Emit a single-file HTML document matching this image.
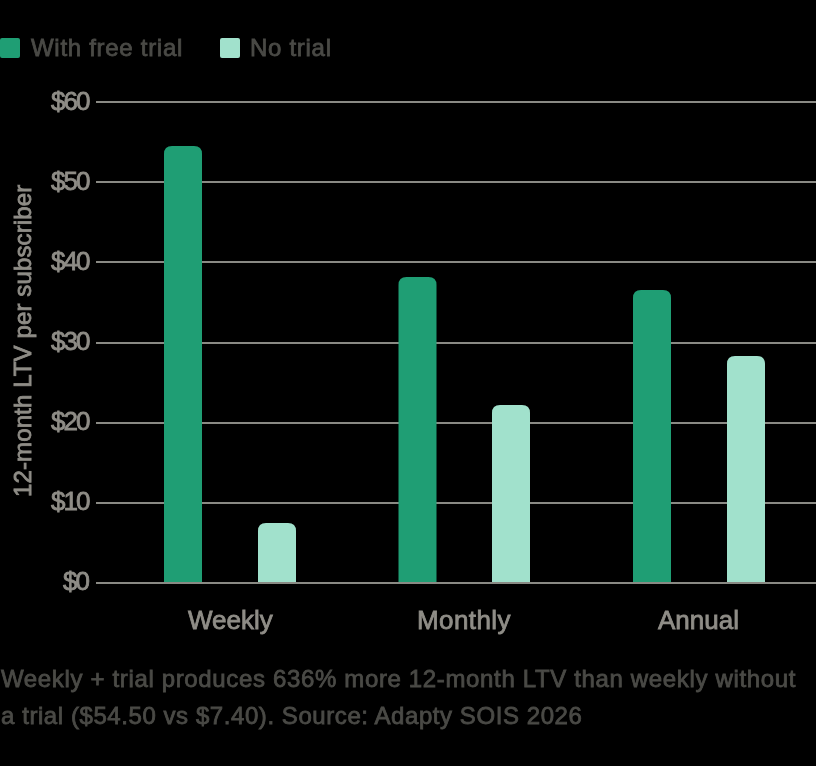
<!DOCTYPE html>
<html><head><meta charset="utf-8">
<style>
html,body{margin:0;padding:0;background:#000;width:816px;height:766px;overflow:hidden;}
body{position:relative;font-family:"Liberation Sans",sans-serif;}
.t{position:absolute;white-space:nowrap;line-height:1;will-change:transform;}
.leg{color:#4a4a46;font-size:24px;letter-spacing:0.71px;-webkit-text-stroke:0.8px #4a4a46;}
.ylab{color:#8f8d87;font-size:26px;letter-spacing:-2px;text-align:right;-webkit-text-stroke:0.8px #8f8d87;}
.xlab{color:#8f8d87;font-size:26px;-webkit-text-stroke:0.8px #8f8d87;}
.cap{color:#4a4a46;font-size:24px;letter-spacing:0.6px;-webkit-text-stroke:0.8px #4a4a46;}
.yt{color:#8f8d87;font-size:24px;letter-spacing:0.12px;-webkit-text-stroke:0.8px #8f8d87;}
svg{position:absolute;left:0;top:0;}
</style></head><body>
<svg width="816" height="766" viewBox="0 0 816 766">
  <rect x="0" y="38" width="20" height="20" rx="2" fill="#1f9e74"/>
  <rect x="220" y="38" width="20" height="20" rx="2" fill="#a1e1cc"/>
  <g fill="#8a8a84">
    <rect x="96" y="101" width="720" height="2"/>
    <rect x="96" y="181" width="720" height="2"/>
    <rect x="96" y="261" width="720" height="2"/>
    <rect x="96" y="342" width="720" height="2"/>
    <rect x="96" y="422" width="720" height="2"/>
    <rect x="96" y="502" width="720" height="2"/>
  </g>
  <g fill="#1f9e74">
    <path d="M164 583 V154 Q164 146 172 146 H194 Q202 146 202 154 V583 Z"/>
    <path d="M398.5 583 V285 Q398.5 277 406.5 277 H428.5 Q436.5 277 436.5 285 V583 Z"/>
    <path d="M633 583 V298 Q633 290 641 290 H663 Q671 290 671 298 V583 Z"/>
  </g>
  <g fill="#a1e1cc">
    <path d="M258 583 V531 Q258 523 266 523 H288 Q296 523 296 531 V583 Z"/>
    <path d="M492 583 V413 Q492 405 500 405 H522 Q530 405 530 413 V583 Z"/>
    <path d="M727 583 V364 Q727 356 735 356 H757 Q765 356 765 364 V583 Z"/>
  </g>
  <rect x="96" y="582" width="720" height="2" fill="#8a8a84"/>
</svg>
<div class="t leg" style="left:31px;top:36px;">With free trial</div>
<div class="t leg" style="left:250px;top:36px;">No trial</div>

<div class="t ylab" style="right:728px;top:88px;">$60</div>
<div class="t ylab" style="right:728px;top:168px;">$50</div>
<div class="t ylab" style="right:728px;top:248px;">$40</div>
<div class="t ylab" style="right:728px;top:328px;">$30</div>
<div class="t ylab" style="right:728px;top:408px;">$20</div>
<div class="t ylab" style="right:728px;top:488px;">$10</div>
<div class="t ylab" style="right:728px;top:568px;">$0</div>

<div class="t xlab" style="left:188px;top:607px;">Weekly</div>
<div class="t xlab" style="left:417px;top:607px;letter-spacing:0.4px;">Monthly</div>
<div class="t xlab" style="left:658px;top:607px;">Annual</div>

<div class="t cap" style="left:1px;top:667px;letter-spacing:0.65px;">Weekly + trial produces 636% more 12-month LTV than weekly without</div>
<div class="t cap" style="left:1px;top:704px;letter-spacing:0.57px;">a trial ($54.50 vs $7.40). Source: Adapty SOIS 2026</div>

<div class="t yt" style="left:35px;top:186px;width:0;height:0;">
  <div style="position:absolute;left:0;top:0;transform-origin:0 0;transform:rotate(-90deg) translate(-311px,-24px);">12-month LTV per subscriber</div>
</div>
</body></html>
